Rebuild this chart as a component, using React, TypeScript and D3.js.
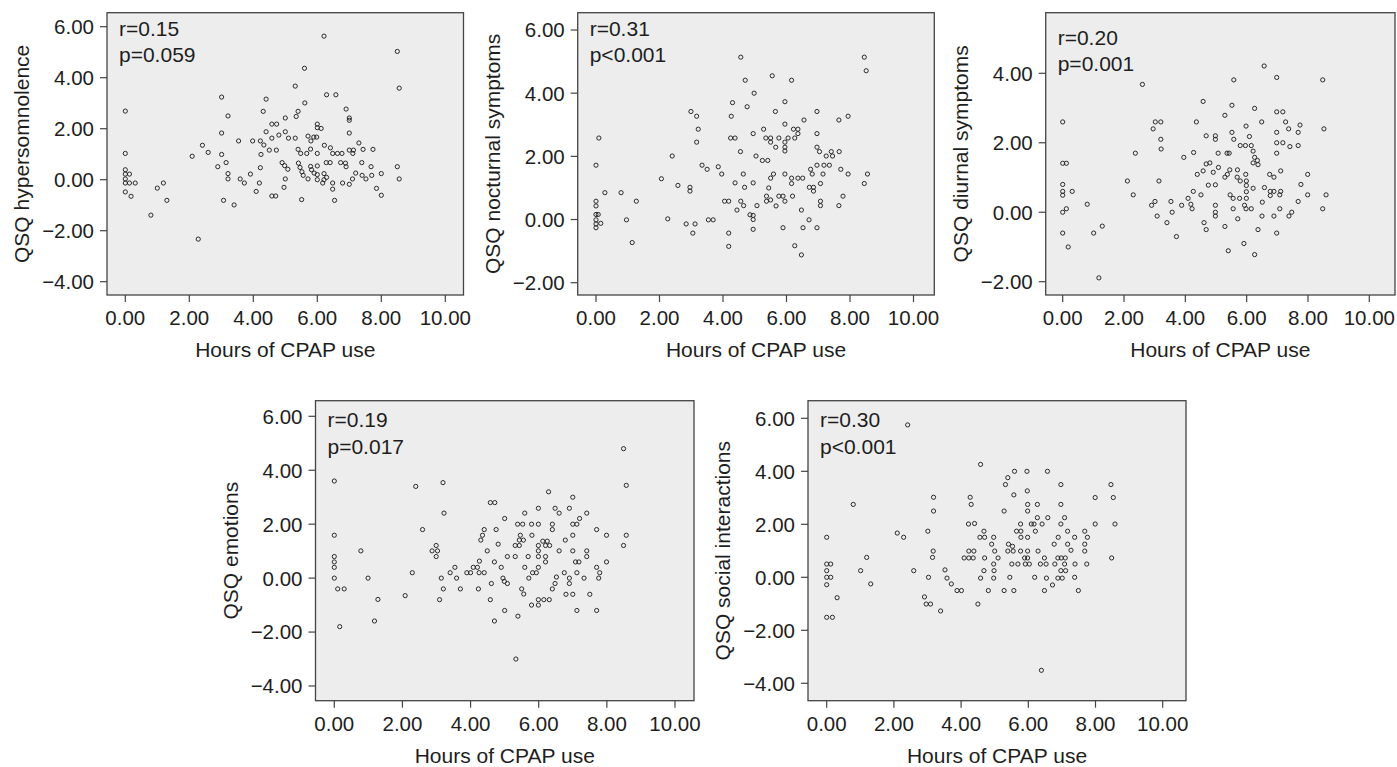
import React from 'react';
import * as d3 from 'd3';

// values: [hours of CPAP use, QSQ score]
const hypersomnolence: [number, number][] = [
  [0, 2.69], [0, 1.03], [0, 0.39], [0, 0.22], [0.13, 0.22], [0, 0.03], [0, -0.13], [0.13, -0.13], [0.31, -0.13], [0, -0.48],
  [0.18, -0.65], [0.8, -1.39], [1.0, -0.33], [1.19, -0.13], [1.3, -0.81], [2.09, 0.92], [2.28, -2.33], [2.41, 1.35], [2.59, 1.07], [2.89, 0.51],
  [3.01, 3.24], [3.01, 1.83], [3.01, 0.99], [3.07, -0.81], [3.15, 0.67], [3.21, 2.5], [3.21, 0.24], [3.21, 0.03], [3.4, -0.99], [3.54, 1.52],
  [3.59, 0.03], [3.72, -0.13], [3.91, 0.22], [3.98, 1.52], [4.09, -0.46], [4.19, -0.13], [4.22, 1.52], [4.22, 0.47], [4.24, 0.99], [4.31, 2.68],
  [4.33, 1.36], [4.4, 3.16], [4.4, 1.88], [4.5, 1.16], [4.58, 2.18], [4.58, 1.63], [4.58, -0.64], [4.7, -0.64], [4.73, 2.18], [4.72, 1.16],
  [4.8, 1.75], [4.9, 0.67], [4.96, -0.3], [4.98, 0.55], [5.0, 2.42], [5.0, 1.88], [5.0, 0.03], [5.08, 0.41], [5.1, 1.63], [5.31, 3.67],
  [5.31, 1.63], [5.34, 2.48], [5.4, 2.68], [5.4, 1.19], [5.41, 0.65], [5.46, 0.48], [5.48, 1.03], [5.52, 0.31], [5.51, -0.78], [5.56, 0.17],
  [5.6, 4.37], [5.61, 3.01], [5.67, 1.03], [5.71, 1.71], [5.71, 0.03], [5.79, 1.2], [5.8, 1.52], [5.79, 0.52], [5.82, 0.39], [5.89, 1.67],
  [5.9, 0.26], [5.98, 1.67], [6.0, 2.18], [6.0, 2.04], [6.0, 1.03], [6.0, 0.54], [6.0, 0.2], [6.0, 0.0], [6.12, 2.01], [6.21, 5.63],
  [6.22, 1.35], [6.17, -0.13], [6.21, 0.24], [6.21, 0.0], [6.29, 3.33], [6.29, 0.09], [6.28, 0.67], [6.4, 0.67], [6.41, 1.25], [6.48, 1.03],
  [6.48, -0.13], [6.48, -0.37], [6.54, -0.81], [6.58, 3.33], [6.63, 1.03], [6.77, 1.03], [6.73, 0.67], [6.79, -0.13], [6.88, 0.65], [6.9, 2.77],
  [6.9, 0.51], [7.0, 2.42], [7.0, 2.33], [7.0, 1.83], [7.0, 1.16], [7.0, -0.18], [7.1, 0.03], [7.11, 1.03], [7.13, 1.16], [7.2, 0.26],
  [7.3, 1.44], [7.39, 0.67], [7.43, 1.19], [7.4, 0.17], [7.52, 0.03], [7.68, 0.51], [7.7, 0.17], [7.74, 1.19], [7.85, -0.34], [8.0, 0.24],
  [8.0, -0.61], [8.5, 5.03], [8.56, 3.59], [8.5, 0.51], [8.56, 0.03],
];

const nocturnal: [number, number][] = [
  [0, 1.72], [0.09, 2.58], [0, 0.58], [0, 0.43], [0, 0.16], [0.07, 0.16], [0, -0.01], [0, -0.14], [0.15, -0.12], [0, -0.26],
  [0.28, 0.85], [0.79, 0.85], [0.96, -0.01], [1.14, -0.73], [1.27, 0.58], [2.06, 1.29], [2.26, 0.02], [2.4, 2.01], [2.58, 1.08], [2.84, -0.14],
  [2.96, 1.02], [2.96, 0.9], [2.99, 3.42], [3.05, -0.43], [3.12, -0.14], [3.17, 3.27], [3.17, 2.45], [3.22, 2.86], [3.34, 1.72], [3.5, 1.59],
  [3.54, -0.01], [3.69, -0.01], [3.85, 1.67], [3.96, 1.44], [4.05, 0.58], [4.18, 0.58], [4.18, -0.43], [4.18, -0.85], [4.24, 2.58], [4.26, 3.27],
  [4.3, 3.7], [4.38, 2.58], [4.38, 1.16], [4.44, 0.3], [4.55, 2.15], [4.56, 5.14], [4.56, 0.58], [4.64, 1.44], [4.65, 0.44], [4.68, 1.02],
  [4.7, 4.41], [4.76, 3.57], [4.85, 0.15], [4.95, 2.72], [4.95, 1.16], [4.95, 0.13], [4.95, 0.0], [4.95, -0.31], [4.98, 4.0], [5.04, 2.01],
  [5.07, 0.44], [5.24, 1.87], [5.28, 2.86], [5.35, 2.58], [5.37, 0.74], [5.37, 0.58], [5.41, 1.87], [5.44, 1.0], [5.5, 2.58], [5.5, 2.45],
  [5.5, 1.31], [5.5, 0.62], [5.55, 4.55], [5.59, 1.44], [5.65, 3.42], [5.66, 2.29], [5.67, 0.43], [5.76, 2.58], [5.76, 0.74], [5.89, 0.74],
  [5.89, -0.26], [5.95, 3.73], [5.95, 3.02], [5.95, 2.45], [5.95, 2.29], [5.95, 2.17], [5.95, 1.44], [5.95, 0.58], [6.05, 2.58], [6.16, 4.41],
  [6.16, 1.31], [6.16, 1.14], [6.19, 0.74], [6.22, 2.86], [6.26, 2.58], [6.26, -0.83], [6.36, 2.86], [6.36, 2.72], [6.36, 1.31], [6.47, 0.3],
  [6.47, -1.12], [6.51, 1.31], [6.52, -0.26], [6.55, 3.15], [6.71, -0.01], [6.76, 1.59], [6.72, 1.02], [6.81, 1.44], [6.85, 1.02], [6.85, 0.9],
  [6.96, 3.42], [6.96, 2.72], [6.96, 2.29], [6.96, 1.72], [6.96, -0.26], [7.04, 2.15], [7.07, 1.14], [7.07, 0.58], [7.07, 0.44], [7.15, 1.44],
  [7.18, 1.72], [7.25, 2.01], [7.35, 1.72], [7.41, 2.15], [7.45, 2.01], [7.65, 3.15], [7.66, 2.15], [7.65, 0.44], [7.71, 1.59], [7.78, 0.74],
  [7.94, 3.27], [7.94, 1.44], [8.45, 5.14], [8.51, 4.71], [8.45, 1.14], [8.55, 1.44],
];

const diurnal: [number, number][] = [
  [0, 2.6], [0, 1.41], [0.12, 1.41], [0, 0.8], [0, 0.6], [0, 0.49], [0.31, 0.6], [0.12, 0.1], [0, 0.0], [0, -0.6],
  [0.18, -1.0], [0.8, 0.23], [1.01, -0.6], [1.29, -0.4], [1.18, -1.89], [2.11, 0.9], [2.3, 0.5], [2.37, 1.7], [2.6, 3.68], [2.9, 0.2],
  [2.95, 2.4], [3.01, 0.31], [3.02, 2.6], [3.08, -0.11], [3.14, 0.9], [3.2, 2.6], [3.2, 2.1], [3.21, 1.82], [3.4, -0.3], [3.53, 0.31],
  [3.57, 0.0], [3.71, -0.7], [3.88, 0.2], [3.95, 1.58], [4.09, 0.4], [4.18, 0.23], [4.22, 0.1], [4.26, 0.6], [4.27, 1.72], [4.36, 2.6],
  [4.39, 1.09], [4.51, 0.5], [4.58, 3.19], [4.58, 1.19], [4.61, -0.3], [4.68, 2.2], [4.68, -0.5], [4.68, 1.39], [4.75, 0.78], [4.8, 1.42],
  [4.91, 1.15], [4.98, 2.2], [4.98, 2.1], [4.98, 0.79], [4.98, 0.2], [4.98, 0.0], [4.98, -0.11], [5.07, 1.7], [5.08, 1.29], [5.29, 2.79],
  [5.29, 1.01], [5.29, -0.41], [5.36, 1.7], [5.43, 1.7], [5.37, 1.09], [5.45, 1.22], [5.4, -1.11], [5.46, 0.5], [5.52, 3.08], [5.52, 2.3],
  [5.56, 0.4], [5.56, 0.1], [5.58, 3.81], [5.58, 2.1], [5.7, 1.22], [5.69, 1.01], [5.71, -0.19], [5.77, 0.4], [5.79, 0.9], [5.79, 1.92],
  [5.91, -0.9], [5.93, 0.2], [5.96, 1.92], [5.97, 1.09], [5.98, 2.48], [5.99, 0.9], [5.99, 0.77], [5.99, 0.59], [5.99, 0.4], [5.98, 0.1],
  [6.09, 2.18], [6.15, 1.92], [6.15, 0.1], [6.21, 0.69], [6.21, 1.76], [6.21, 1.42], [6.26, 2.99], [6.26, 1.58], [6.26, -1.22], [6.35, 1.49],
  [6.37, 1.37], [6.37, -0.5], [6.49, 2.6], [6.5, -0.11], [6.51, 0.29], [6.57, 4.21], [6.58, 0.71], [6.75, 1.09], [6.77, 0.48], [6.77, 0.6],
  [6.89, 1.01], [6.89, 0.6], [6.89, -0.11], [6.98, 3.88], [6.98, 2.89], [6.98, 2.3], [6.98, 2.0], [6.98, 1.7], [6.98, -0.6], [7.08, 0.5],
  [7.08, 0.1], [7.11, 1.19], [7.11, 0.6], [7.18, 2.89], [7.18, 2.0], [7.27, 2.6], [7.37, 2.4], [7.38, -0.11], [7.41, 1.89], [7.47, 0.0],
  [7.68, 2.3], [7.68, 1.92], [7.68, 0.31], [7.74, 2.51], [7.77, 0.8], [7.99, 1.09], [7.99, 0.5], [8.48, 3.81], [8.52, 2.4], [8.48, 0.1],
  [8.59, 0.5],
];

const emotions: [number, number][] = [
  [0, 3.6], [0, 1.59], [0, 0.8], [0, 0.6], [0, 0.4], [0, 0.0], [0.1, -0.4], [0.29, -0.4], [0.16, -1.8], [0.78, 1.01],
  [0.99, 0.0], [1.18, -1.59], [1.28, -0.79], [2.08, -0.65], [2.29, 0.2], [2.39, 3.4], [2.59, 1.8], [2.87, 1.01], [2.99, 1.21], [3.03, 1.01],
  [2.99, 0.8], [3.09, -0.8], [3.14, 0.0], [3.19, 3.54], [3.22, 2.41], [3.2, -0.4], [3.4, 0.2], [3.54, 0.4], [3.59, 0.0], [3.7, -0.4],
  [3.89, 0.2], [4.0, 0.2], [4.08, 0.4], [4.2, 0.4], [4.23, -0.4], [4.25, 0.2], [4.26, 0.63], [4.3, 1.41], [4.35, 1.59], [4.4, 1.8],
  [4.4, 0.2], [4.49, 1.01], [4.58, 2.8], [4.71, 2.8], [4.58, -0.8], [4.61, -0.2], [4.7, 0.6], [4.7, -1.59], [4.75, 1.8], [4.81, 1.26],
  [4.9, 0.4], [4.95, 0.0], [5.0, 2.21], [5.0, -1.2], [4.99, -0.12], [5.08, -0.2], [5.08, 0.8], [5.31, 0.8], [5.31, 1.21], [5.33, -3.0],
  [5.38, 2.0], [5.39, -1.41], [5.43, 1.21], [5.43, 1.41], [5.46, 1.59], [5.5, -0.4], [5.53, 2.0], [5.55, 1.41], [5.56, -0.59], [5.59, 2.41],
  [5.59, 0.4], [5.69, 0.8], [5.71, 0.0], [5.79, 2.0], [5.8, 1.59], [5.79, -1.0], [5.82, 0.2], [5.93, 0.2], [5.99, 2.59], [5.99, 2.0],
  [5.99, 1.21], [5.99, 1.01], [5.99, 0.8], [5.99, 0.4], [5.99, -0.8], [5.99, -1.0], [6.12, 1.37], [6.15, -0.8], [6.2, 0.8], [6.2, 0.6],
  [6.2, 1.21], [6.25, 1.37], [6.29, 3.2], [6.32, 1.21], [6.31, -0.8], [6.4, 2.0], [6.4, 1.8], [6.4, -0.4], [6.48, 2.59], [6.48, -0.2],
  [6.52, 0.04], [6.6, 2.41], [6.6, 1.01], [6.75, 0.2], [6.78, 1.41], [6.8, -0.6], [6.9, 2.59], [6.9, 0.0], [6.9, -0.2], [7.0, 3.0],
  [7.0, 2.0], [7.0, 1.59], [7.0, 1.01], [7.0, -0.6], [7.12, 2.0], [7.08, 0.6], [7.18, 0.6], [7.12, 0.2], [7.12, -1.2], [7.2, 2.21],
  [7.33, 0.0], [7.41, 2.41], [7.41, 1.01], [7.41, 0.8], [7.5, -0.6], [7.7, 1.8], [7.7, 0.4], [7.7, -1.2], [7.76, 0.0], [7.79, 0.2],
  [7.99, 1.59], [7.99, 0.6], [8.49, 4.8], [8.57, 3.44], [8.57, 1.59], [8.49, 1.21],
];

const social: [number, number][] = [
  [0, 1.51], [0, 0.5], [0.12, 0.5], [0, 0.25], [0, 0.0], [0.12, 0.0], [0, -0.28], [0.31, -0.77], [0, -1.51], [0.17, -1.51],
  [0.79, 2.75], [1.01, 0.25], [1.19, 0.75], [1.31, -0.25], [2.1, 1.67], [2.29, 1.51], [2.41, 5.75], [2.59, 0.25], [2.91, -0.74], [2.96, -1.01],
  [3.09, -1.01], [3.01, 1.74], [3.03, 0.0], [3.15, 0.75], [3.17, 0.99], [3.18, 2.5], [3.18, 3.02], [3.39, -1.27], [3.52, 0.28], [3.58, -0.03],
  [3.71, -0.25], [3.88, -0.5], [4.01, -0.5], [4.09, 0.73], [4.23, 0.73], [4.36, 0.73], [4.23, 0.99], [4.38, 0.99], [4.22, 2.01], [4.4, 2.03],
  [4.27, 3.02], [4.3, 2.75], [4.5, -1.01], [4.56, 1.51], [4.7, 1.51], [4.68, 1.74], [4.58, 4.26], [4.58, -0.03], [4.68, 0.25], [4.7, 0.73],
  [4.81, -0.5], [4.91, 1.25], [4.97, 1.51], [4.97, 0.5], [4.98, 0.25], [4.97, -0.03], [5.0, 0.99], [5.1, 0.73], [5.28, 2.5], [5.28, -0.5],
  [5.32, 3.5], [5.39, 3.76], [5.41, 1.25], [5.39, 0.99], [5.45, 0.0], [5.51, 0.5], [5.53, 1.17], [5.55, 0.99], [5.57, 3.11], [5.59, 4.0],
  [5.57, -0.5], [5.65, 1.74], [5.78, 1.74], [5.69, 0.5], [5.77, 2.01], [5.78, 1.51], [5.77, 0.99], [5.89, 0.73], [5.91, 0.5], [5.96, 4.0],
  [5.97, 3.26], [5.98, 2.75], [5.98, 2.5], [5.98, 1.51], [5.98, 0.99], [5.98, 0.73], [6.03, 0.5], [6.09, 2.01], [6.17, 2.01], [6.21, 1.74],
  [6.19, 0.0], [6.27, 2.75], [6.27, 2.25], [6.29, 0.99], [6.36, 0.5], [6.39, -3.51], [6.41, 2.01], [6.48, 0.73], [6.48, -0.5], [6.53, 0.5],
  [6.54, -0.03], [6.57, 4.0], [6.58, 2.25], [6.72, -0.29], [6.77, 1.25], [6.79, 0.5], [6.88, 0.73], [6.89, 1.51], [6.88, -0.03], [6.97, 3.5],
  [6.97, 2.75], [6.97, 2.01], [6.98, 0.73], [6.97, 0.25], [7.01, -0.03], [7.08, 2.25], [7.08, 0.5], [7.1, 0.73], [7.11, 0.25], [7.17, 1.74],
  [7.17, 1.25], [7.27, 1.02], [7.38, 1.51], [7.39, 0.5], [7.38, 0.0], [7.49, -0.5], [7.68, 1.74], [7.68, 1.25], [7.68, 0.99], [7.76, 1.51],
  [7.74, 0.5], [7.99, 3.01], [7.99, 2.01], [8.46, 3.5], [8.53, 3.01], [8.58, 2.01], [8.48, 0.73],
];

const xTicks = [0, 2, 4, 6, 8, 10];
const yTicksSix = [6, 4, 2, 0, -2, -4];
const yTicksNoct = [6, 4, 2, 0, -2];
const yTicksDiurnal = [4, 2, 0, -2];

const panels = [
  { label: 'QSQ hypersomnolence', r: 'r=0.15', p: 'p=0.059', pts: hypersomnolence, yTicks: yTicksSix,
    frame: [107, 12.7, 463.5, 295], xPx: [125.3, 445.3], yPx: [26.7, 281.7], txt: [23.5, 49] },
  { label: 'QSQ nocturnal symptoms', r: 'r=0.31', p: 'p<0.001', pts: nocturnal, yTicks: yTicksNoct,
    frame: [577.7, 12.7, 934.3, 295], xPx: [596, 913.5], yPx: [30, 282.7], txt: [23.5, 49] },
  { label: 'QSQ diurnal symptoms', r: 'r=0.20', p: 'p=0.001', pts: diurnal, yTicks: yTicksDiurnal,
    frame: [1045.7, 12.7, 1395, 295], xPx: [1062.7, 1369.3], yPx: [73.3, 281.7], txt: [32, 58] },
  { label: 'QSQ emotions', r: 'r=0.19', p: 'p=0.017', pts: emotions, yTicks: yTicksSix,
    frame: [315.5, 400.7, 694, 700.7], xPx: [334.3, 675], yPx: [416.3, 686], txt: [26.6, 53.3] },
  { label: 'QSQ social interactions', r: 'r=0.30', p: 'p<0.001', pts: social, yTicks: yTicksSix,
    frame: [808, 400.7, 1186, 700.7], xPx: [826.7, 1162.7], yPx: [418.3, 683.3], txt: [26.6, 53.3] },
];

const fmt = d3.format('.2f');
const font = '"Liberation Sans", Arial, Helvetica, sans-serif';
const ink = '#1e1e1e';
const axisInk = '#444';

const Panel = ({ cfg }) => {
  const [fx0, fy0, fx1, fy1] = cfg.frame;
  const yTop = cfg.yTicks[0];
  const yBot = cfg.yTicks[cfg.yTicks.length - 1];
  const x = d3.scaleLinear().domain([0, 10]).range(cfg.xPx);
  const y = d3.scaleLinear().domain([yTop, yBot]).range(cfg.yPx);
  const cx = (fx0 + fx1) / 2;
  const cy = (fy0 + fy1) / 2;

  return (
    <g>
      <rect x={fx0} y={fy0} width={fx1 - fx0} height={fy1 - fy0} fill="#ededed" stroke={axisInk} strokeWidth={1.3} />

      {cfg.yTicks.map(t => (
        <g key={'y' + t}>
          <line x1={fx0 - 7} x2={fx0} y1={y(t)} y2={y(t)} stroke={axisInk} strokeWidth={1.2} />
          <text x={fx0 - 13} y={y(t)} dy="0.36em" textAnchor="end" fontSize={20.5} fill={ink}>{fmt(t)}</text>
        </g>
      ))}

      {xTicks.map(t => (
        <g key={'x' + t}>
          <line x1={x(t)} x2={x(t)} y1={fy1} y2={fy1 + 7} stroke={axisInk} strokeWidth={1.2} />
          <text x={x(t)} y={fy1 + 30} textAnchor="middle" fontSize={20.5} fill={ink}>{fmt(t)}</text>
        </g>
      ))}

      {cfg.pts.map((d, i) => (
        <circle key={i} cx={x(d[0])} cy={y(d[1])} r={2.1} fill="none" stroke="#222" strokeWidth={0.95} />
      ))}

      <text x={fx0 + 12} y={fy0 + cfg.txt[0]} fontSize={21} fill={ink}>{cfg.r}</text>
      <text x={fx0 + 12} y={fy0 + cfg.txt[1]} fontSize={21} fill={ink}>{cfg.p}</text>

      <text x={cx} y={fy1 + 62} textAnchor="middle" fontSize={21} fill={ink}>Hours of CPAP use</text>
      <text transform={`translate(${fx0 - 78},${cy}) rotate(-90)`} textAnchor="middle" fontSize={21} fill={ink}>{cfg.label}</text>
    </g>
  );
};

const App = () => {
  return (
    <svg width={1397} height={767} style={{ position: 'absolute', left: 0, top: 0, background: '#fff' }} fontFamily={font}>
      {panels.map((cfg, i) => <Panel key={i} cfg={cfg} />)}
    </svg>
  );
};

export default App;
